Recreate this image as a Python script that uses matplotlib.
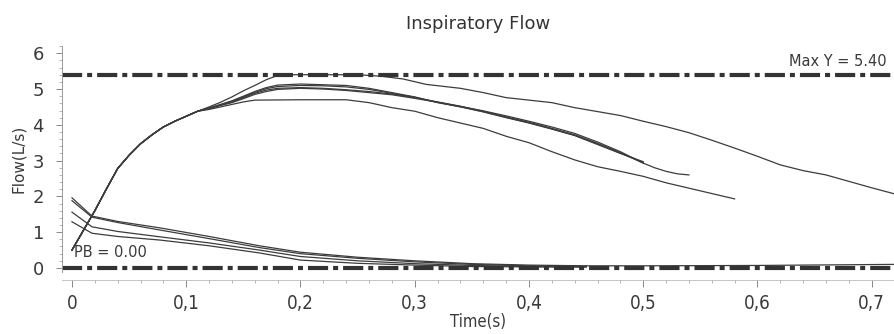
import matplotlib
matplotlib.use("Agg")
import matplotlib.pyplot as plt
from matplotlib.ticker import MultipleLocator, FuncFormatter

# inspiratory flow curves (time s, flow L/s)
rise_t = [0, 0.01, 0.02, 0.03, 0.04, 0.05, 0.06, 0.07, 0.08, 0.09, 0.10, 0.11]
rise_f = [0.5, 1.05, 1.6, 2.2, 2.78, 3.15, 3.47, 3.72, 3.94, 4.1, 4.24, 4.38]

a_t = [0.12, 0.13, 0.14, 0.15, 0.16, 0.17, 0.18, 0.19, 0.22, 0.25, 0.27, 0.29, 0.31, 0.34,
       0.36, 0.38, 0.40, 0.42, 0.44, 0.46, 0.48, 0.50, 0.52, 0.54, 0.56, 0.58, 0.60, 0.62,
       0.64, 0.66, 0.68, 0.70, 0.72]
a_f = [4.5, 4.63, 4.78, 4.95, 5.1, 5.26, 5.38, 5.40, 5.40, 5.40, 5.36, 5.28, 5.13, 5.02,
       4.9, 4.76, 4.69, 4.62, 4.48, 4.37, 4.26, 4.1, 3.95, 3.78, 3.57, 3.35, 3.12, 2.88,
       2.72, 2.6, 2.42, 2.24, 2.07]

b_t = [0.12, 0.13, 0.14, 0.15, 0.16, 0.17, 0.18, 0.20, 0.22, 0.24, 0.26, 0.28, 0.30, 0.32,
       0.34, 0.36, 0.38, 0.40, 0.42, 0.44, 0.46, 0.48, 0.50]
b_f = [4.47, 4.57, 4.67, 4.8, 4.93, 5.04, 5.11, 5.14, 5.12, 5.1, 5.02, 4.9, 4.78, 4.62,
       4.5, 4.36, 4.2, 4.05, 3.88, 3.7, 3.45, 3.2, 2.97]

c_t = [0.12, 0.13, 0.14, 0.15, 0.16, 0.17, 0.18, 0.20, 0.22, 0.24, 0.26, 0.28, 0.30, 0.32,
       0.34, 0.36, 0.38, 0.40, 0.42, 0.44, 0.46, 0.48, 0.50]
c_f = [4.46, 4.55, 4.64, 4.76, 4.88, 4.97, 5.02, 5.04, 5.02, 4.98, 4.93, 4.86, 4.76, 4.64,
       4.52, 4.38, 4.22, 4.07, 3.9, 3.72, 3.48, 3.22, 2.93]

d_t = [0.12, 0.13, 0.14, 0.15, 0.16, 0.17, 0.18, 0.20, 0.22, 0.24, 0.26, 0.28, 0.30, 0.32,
       0.34, 0.36, 0.38, 0.40, 0.42, 0.44, 0.46, 0.48, 0.50, 0.51, 0.52, 0.53, 0.54]
d_f = [4.45, 4.54, 4.62, 4.73, 4.85, 4.93, 4.99, 5.02, 5.0, 4.96, 4.9, 4.84, 4.74, 4.63,
       4.51, 4.39, 4.25, 4.1, 3.94, 3.76, 3.52, 3.25, 2.93, 2.8, 2.7, 2.63, 2.6]

e_t = [0.12, 0.13, 0.14, 0.15, 0.16, 0.20, 0.24, 0.26, 0.28, 0.30, 0.32, 0.34, 0.36, 0.38,
       0.40, 0.42, 0.44, 0.46, 0.48, 0.50, 0.52, 0.54, 0.56, 0.58]
e_f = [4.43, 4.5, 4.57, 4.64, 4.69, 4.7, 4.7, 4.62, 4.48, 4.38, 4.2, 4.05, 3.9, 3.68,
       3.5, 3.25, 3.02, 2.83, 2.7, 2.56, 2.38, 2.23, 2.08, 1.93]

f_t = [0.12, 0.13, 0.14, 0.15, 0.16, 0.17, 0.18, 0.20, 0.22, 0.24, 0.26, 0.28, 0.30, 0.32,
       0.34, 0.36, 0.38, 0.40, 0.42, 0.44, 0.46, 0.48, 0.50]
f_f = [4.47, 4.56, 4.66, 4.78, 4.91, 5.01, 5.07, 5.1, 5.09, 5.06, 4.99, 4.88, 4.77, 4.63,
       4.51, 4.37, 4.21, 4.06, 3.89, 3.71, 3.47, 3.21, 2.95]

# lower (decaying) curves
low_t = [0, 0.0175, 0.04, 0.077, 0.12, 0.164, 0.2, 0.25, 0.3, 0.35, 0.4, 0.45]
l1_f = [1.96, 1.45, 1.3, 1.12, 0.88, 0.62, 0.44, 0.3, 0.2, 0.12, 0.08, 0.06]
l2_f = [1.88, 1.42, 1.27, 1.06, 0.82, 0.57, 0.4, 0.27, 0.17, 0.1, 0.06, 0.04]
l3_f = [1.56, 1.15, 1.02, 0.87, 0.7, 0.5, 0.32, 0.2, 0.12, 0.07, 0.04, 0.03]
l4_f = [1.29, 0.97, 0.88, 0.78, 0.62, 0.42, 0.22, 0.13, 0.08, 0.04, 0.03, 0.03]
tail_t = [0.45, 0.5, 0.6, 0.72]
tail_f = [0.06, 0.06, 0.07, 0.1]

max_y = 5.40
pb = 0.00

plt.rcParams['lines.scale_dashes'] = False
plt.rcParams['font.family'] = ['DejaVu Sans']
line_col = "#3c3c3c"
txt_col = "#3a3a3a"


def main():
    fig = plt.figure(figsize=(8.94, 3.34), dpi=100)
    ax = fig.add_axes([0.0694, 0.187, 0.9306, 0.675])

    for t, f in [(a_t, a_f), (b_t, b_f), (c_t, c_f), (d_t, d_f), (e_t, e_f), (f_t, f_f)]:
        ax.plot(rise_t + t, rise_f + f, color=line_col, lw=0.9)
    for f in [l1_f, l2_f, l3_f, l4_f]:
        ax.plot(low_t, f, color=line_col, lw=0.9)
    ax.plot(tail_t, tail_f, color=line_col, lw=0.9)

    dash = (0, (14.5, 3.6, 3.6, 3.6))
    ax.axhline(max_y, color="#333333", lw=3.0, ls=dash)
    ax.axhline(pb, color="#333333", lw=3.0, ls=dash)

    ax.text(0.713, max_y + 0.17, f"Max Y = {max_y:.2f}", ha="right", va="bottom",
            fontsize=10.5, color=txt_col)
    ax.text(0.0015, pb + 0.22, f"PB = {pb:.2f}", ha="left", va="bottom",
            fontsize=10.5, color=txt_col)

    ax.set(xlim=(-0.0087, 0.7195), ylim=(-0.1, 6.2))
    ax.xaxis.set_major_locator(MultipleLocator(0.1))
    ax.xaxis.set_minor_locator(MultipleLocator(0.02))
    ax.yaxis.set_major_locator(MultipleLocator(1))
    ax.yaxis.set_minor_locator(MultipleLocator(0.2))
    ax.xaxis.set_major_formatter(FuncFormatter(
        lambda v, p: "0" if abs(v) < 1e-9 else f"{v:.1f}".replace(".", ",")))

    for s in ["top", "right"]:
        ax.spines[s].set_visible(False)
    ax.spines["bottom"].set_position(("outward", 6))
    ax.spines["bottom"].set_color("#bbbbbb")
    ax.spines["bottom"].set_linewidth(0.6)
    ax.spines["left"].set_color("#999999")
    ax.spines["left"].set_linewidth(0.7)

    ax.tick_params(axis="x", which="major", length=5, width=0.7, color="#888888",
                   labelsize=13.5, labelcolor=txt_col, pad=5)
    ax.tick_params(axis="x", which="minor", length=2.5, width=0.6, color="#aaaaaa")
    ax.tick_params(axis="y", which="major", length=4, width=0.7, color="#888888",
                   labelsize=13, labelcolor=txt_col, pad=9)
    ax.tick_params(axis="y", which="minor", length=2.5, width=0.6, color="#aaaaaa")
    for lab in ax.get_xticklabels():
        lab.set_fontstretch("condensed")

    ax.set_xlabel("Time(s)", fontsize=12, color=txt_col, labelpad=0, fontstretch="condensed")
    ax.set_ylabel("Flow(L/s)", fontsize=11, color=txt_col, labelpad=5)
    ax.set_title("Inspiratory Flow", fontsize=13, color="#333333", pad=12)

    fig.savefig("out.png", dpi=100)


if __name__ == '__main__':
    main()
